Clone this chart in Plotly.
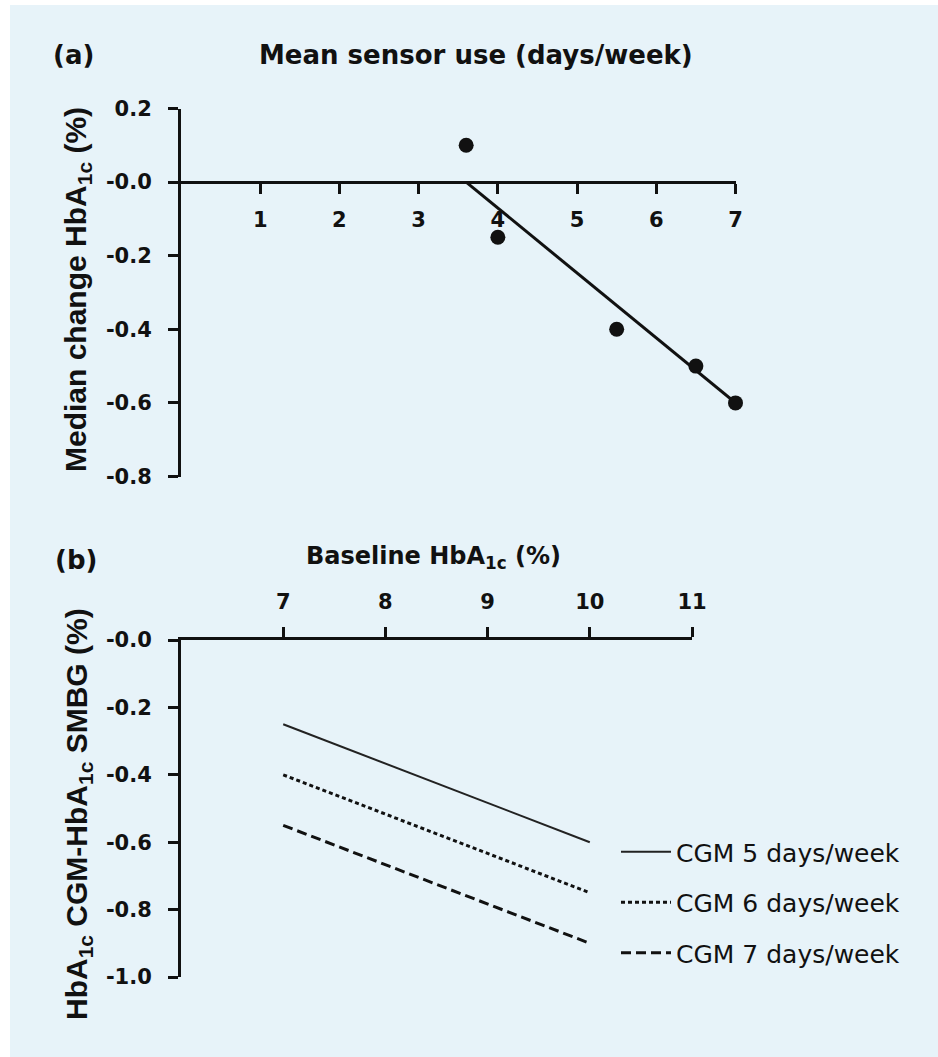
import plotly.graph_objects as go

W, H = 938, 1057

# ---- Panel (a): mean sensor use vs median change in HbA1c ----
sensor_days = [3.6, 4.0, 5.5, 6.5, 7.0]
hba1c_change = [0.10, -0.15, -0.40, -0.50, -0.60]
fit_days = [3.6, 7.0]
fit_change = [0.0, -0.6]
a_xticks = [1, 2, 3, 4, 5, 6, 7]
a_yticks = [0.2, 0.0, -0.2, -0.4, -0.6, -0.8]
a_yticklabels = ["0.2", "-0.0", "-0.2", "-0.4", "-0.6", "-0.8"]

# ---- Panel (b): baseline HbA1c vs CGM-SMBG difference ----
baseline_hba1c = [7, 10]
cgm5 = [-0.25, -0.60]
cgm6 = [-0.40, -0.75]
cgm7 = [-0.55, -0.90]
b_xticks = [7, 8, 9, 10, 11]
b_yticks = [0.0, -0.2, -0.4, -0.6, -0.8, -1.0]
b_yticklabels = ["-0.0", "-0.2", "-0.4", "-0.6", "-0.8", "-1.0"]


def fx(p):
    return p / W


def fy(p):
    return 1 - p / H


INK = "#111111"
BG = "#e7f3f9"
tick_font = dict(family="DejaVu Sans", size=21, color=INK, weight="bold")
title_font = dict(family="DejaVu Sans", size=26, color=INK, weight="bold")
ytitle_font = dict(family="Liberation Sans, Arial", size=30, color=INK, weight="bold")

a_yrange = [-0.8, 0.2]
a_ydom = [fy(476.5), fy(108.5)]
# x axis of panel (a) crosses at y = 0
a_xpos = a_ydom[0] + (0 - a_yrange[0]) / (a_yrange[1] - a_yrange[0]) * (a_ydom[1] - a_ydom[0])

fig = go.Figure()

fig.add_trace(go.Scatter(
    x=fit_days, y=fit_change, mode="lines",
    line=dict(color=INK, width=3), showlegend=False, cliponaxis=False,
    xaxis="x", yaxis="y"))
fig.add_trace(go.Scatter(
    x=sensor_days, y=hba1c_change, mode="markers",
    marker=dict(color=INK, size=15), showlegend=False, cliponaxis=False,
    xaxis="x", yaxis="y"))

fig.add_trace(go.Scatter(
    x=baseline_hba1c, y=cgm5, mode="lines", name="CGM 5 days/week",
    line=dict(color="#222222", width=2), legendgroup="g5",
    xaxis="x2", yaxis="y2"))
fig.add_trace(go.Scatter(
    x=baseline_hba1c, y=cgm6, mode="lines", name="CGM 6 days/week",
    line=dict(color=INK, width=3, dash="4px,3px"), legendgroup="g6",
    xaxis="x2", yaxis="y2"))
fig.add_trace(go.Scatter(
    x=baseline_hba1c, y=cgm7, mode="lines", name="CGM 7 days/week",
    line=dict(color=INK, width=3, dash="10px,5px"), legendgroup="g7",
    xaxis="x2", yaxis="y2"))

axis_common = dict(
    showline=True, linecolor=INK, linewidth=3, ticks="outside", ticklen=10,
    tickwidth=3, tickcolor=INK, showgrid=False, zeroline=False,
    tickfont=tick_font, fixedrange=True)


def label(text, xp, yp, font, angle=0):
    return dict(text=text, x=fx(xp), y=fy(yp), xref="paper", yref="paper",
                xanchor="center", yanchor="middle", showarrow=False,
                textangle=angle, font=font)


fig.update_layout(
    template="none",
    width=W, height=H,
    margin=dict(l=0, r=0, t=0, b=0),
    paper_bgcolor="white",
    plot_bgcolor="rgba(0,0,0,0)",
    xaxis=dict(domain=[fx(181), fx(735.5)], range=[0, 7], anchor="free",
               position=a_xpos, tickvals=a_xticks, ticklabelstandoff=8,
               **axis_common),
    yaxis=dict(domain=a_ydom, range=a_yrange, anchor="x",
               tickvals=a_yticks, ticktext=a_yticklabels, ticklabelstandoff=12,
               **axis_common),
    xaxis2=dict(domain=[fx(181), fx(692)], range=[6, 11], anchor="y2",
                side="top", tickvals=b_xticks, ticklabelstandoff=10,
                **axis_common),
    yaxis2=dict(domain=[fy(977), fy(640)], range=[-1.0, 0.0], anchor="x2",
                tickvals=b_yticks, ticktext=b_yticklabels, ticklabelstandoff=12,
                **axis_common),
    legend=dict(x=fx(616), xanchor="left", y=fy(829), yanchor="top",
                bgcolor="rgba(0,0,0,0)", borderwidth=0, tracegroupgap=15,
                itemwidth=50,
                font=dict(family="DejaVu Sans", size=25, color=INK)),
    shapes=[dict(type="rect", xref="paper", yref="paper", layer="below",
                 x0=fx(10), x1=1, y0=0, y1=fy(5),
                 fillcolor=BG, line=dict(width=0))],
    annotations=[
        label("(a)", 73, 55, title_font),
        label("Mean sensor use (days/week)", 476, 55, title_font),
        label("(b)", 76, 560, title_font),
        label("Baseline HbA<sub>1c</sub> (%)", 433, 557,
              dict(title_font, size=24)),
        label("Median change HbA<sub>1c</sub> (%)", 77, 290, ytitle_font, -90),
        label("HbA<sub>1c</sub> CGM-HbA<sub>1c</sub> SMBG (%)", 78, 814,
              ytitle_font, -90),
    ],
)

fig.write_html("out.html")
